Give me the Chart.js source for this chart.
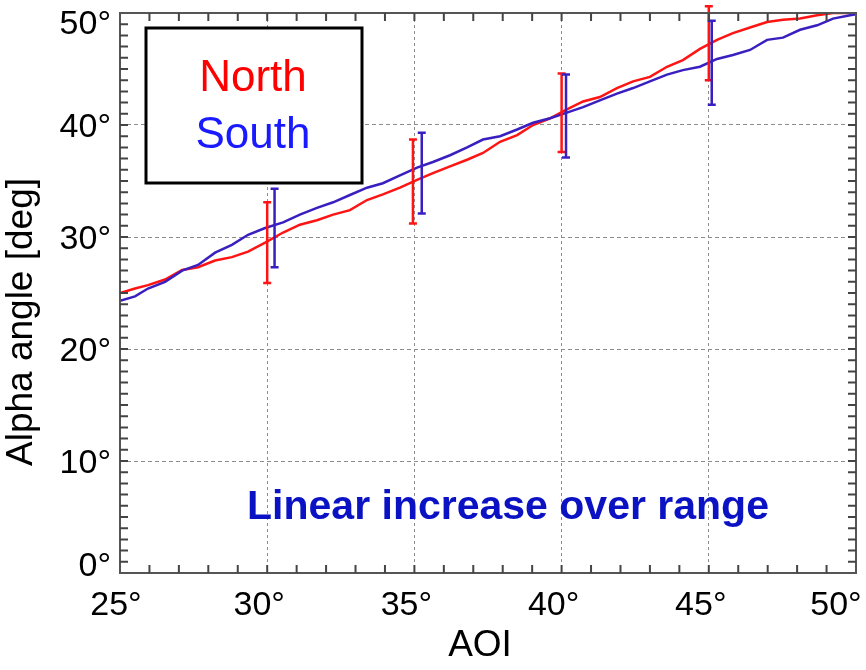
<!DOCTYPE html>
<html>
<head>
<meta charset="utf-8">
<script src="https://cdn.jsdelivr.net/npm/chart.js@4.4.1/dist/chart.umd.min.js"></script>
<style>
  html, body { margin: 0; padding: 0; background: #ffffff; }
  #wrap { width: 866px; height: 670px; position: relative; }
</style>
</head>
<body>
<div id="wrap"><canvas id="alphaChart"></canvas></div>
<script>
// AOI sampling positions (deg)
const aoi = [25.0, 25.51, 25.95, 26.53, 27.11, 27.65, 28.23, 28.8, 29.35, 29.93,
  30.54, 31.11, 31.69, 32.24, 32.81, 33.39, 33.93, 34.51, 35.09, 35.63,
  36.21, 36.79, 37.33, 37.91, 38.49, 39.03, 39.61, 40.18, 40.73, 41.3,
  41.88, 42.43, 43.0, 43.58, 44.12, 44.7, 45.28, 45.82, 46.4, 46.98,
  47.52, 48.1, 48.68, 49.22, 49.8, 50.0];

const northAlpha = [25.0, 25.4, 25.7, 26.2, 27.05, 27.3, 27.9, 28.2, 28.7, 29.5,
  30.4, 31.1, 31.5, 32.0, 32.4, 33.3, 33.8, 34.4, 35.1, 35.7,
  36.3, 36.9, 37.5, 38.5, 39.1, 40.0, 40.6, 41.4, 42.1, 42.5,
  43.3, 43.9, 44.3, 45.2, 45.8, 46.8, 47.6, 48.2, 48.7, 49.2,
  49.4, 49.5, 49.8, 50.0, 50.0, 50.0];

const southAlpha = [24.3, 24.7, 25.4, 26.0, 27.0, 27.5, 28.6, 29.3, 30.2, 30.8,
  31.3, 32.0, 32.6, 33.1, 33.75, 34.4, 34.8, 35.5, 36.2, 36.7,
  37.3, 38.0, 38.7, 39.0, 39.6, 40.2, 40.6, 41.1, 41.6, 42.2,
  42.8, 43.3, 43.9, 44.5, 44.9, 45.2, 45.9, 46.25, 46.7, 47.6,
  47.8, 48.5, 48.9, 49.5, 49.8, 49.9];

// error bars
const northErrAoi = [30.0, 34.95, 40.0, 45.0];
const northErrLow = [25.9, 31.2, 37.6, 44.0];
const northErrHigh = [33.1, 38.7, 44.6, 50.6];
const southErrAoi = [30.25, 35.25, 40.15, 45.1];
const southErrLow = [27.3, 32.1, 37.1, 41.8];
const southErrHigh = [34.3, 39.3, 44.5, 49.3];

const xTicks = [25, 30, 35, 40, 45, 50];
const yTicks = [0, 10, 20, 30, 40, 50];

const RED = '#ff1414';
const BLUE = '#3a1fc0';
const FONT = '"Liberation Sans", Arial, sans-serif';

function toPoints(xs, ys) {
  return xs.map((x, i) => ({ x: x, y: ys[i] }));
}

// frame, inward ticks, tick labels, titles
const framePlugin = {
  id: 'frame',
  afterDraw(chart) {
    const ctx = chart.ctx;
    const a = chart.chartArea;
    const xs = chart.scales.x, ys = chart.scales.y;
    ctx.save();
    ctx.strokeStyle = '#555555';
    ctx.lineWidth = 2;
    ctx.strokeRect(a.left, a.top, a.right - a.left, a.bottom - a.top);

    ctx.lineWidth = 2;
    ctx.strokeStyle = '#444444';
    ctx.beginPath();
    for (let v = 26; v < 50; v++) {
      const px = xs.getPixelForValue(v);
      ctx.moveTo(px, a.bottom); ctx.lineTo(px, a.bottom - 8);
      ctx.moveTo(px, a.top); ctx.lineTo(px, a.top + 8);
    }
    for (let v = 1; v < 50; v++) {
      const py = ys.getPixelForValue(v);
      ctx.moveTo(a.left, py); ctx.lineTo(a.left + 8, py);
      ctx.moveTo(a.right, py); ctx.lineTo(a.right - 8, py);
    }
    ctx.stroke();

    ctx.fillStyle = '#000000';
    ctx.font = '34px ' + FONT;
    ctx.textAlign = 'center';
    ctx.textBaseline = 'middle';
    xTicks.forEach(v => {
      const px = Math.min(Math.max(xs.getPixelForValue(v) - 8, 116), 836);
      ctx.fillText(v + '°', px, 606);
    });
    ctx.textAlign = 'right';
    yTicks.forEach(v => {
      const py = Math.min(Math.max(ys.getPixelForValue(v) + 3, 25), 567);
      ctx.fillText(v + '°', 111, py);
    });

    ctx.font = '37px ' + FONT;
    ctx.textAlign = 'center';
    ctx.fillText('AOI', 480, 646);
    ctx.save();
    ctx.translate(22, 322);
    ctx.rotate(-Math.PI / 2);
    ctx.fillText('Alpha angle [deg]', 0, 0);
    ctx.restore();

    // legend box
    ctx.fillStyle = '#ffffff';
    ctx.fillRect(146, 28, 216, 155);
    ctx.strokeStyle = '#000000';
    ctx.lineWidth = 3;
    ctx.strokeRect(146, 28, 216, 155);
    ctx.font = '44px ' + FONT;
    ctx.fillStyle = '#ff0000';
    ctx.fillText('North', 253, 79);
    ctx.fillStyle = '#1a1aff';
    ctx.fillText('South', 253, 136);

    ctx.font = 'bold 41px ' + FONT;
    ctx.fillStyle = '#0a12c4';
    ctx.fillText('Linear increase over range', 508, 508);
    ctx.restore();
  }
};

const errorBarPlugin = {
  id: 'errorBars',
  afterDatasetsDraw(chart) {
    const ctx = chart.ctx;
    const xs = chart.scales.x, ys = chart.scales.y;
    const drawSet = (xv, lo, hi, color) => {
      ctx.strokeStyle = color;
      ctx.lineWidth = 2.5;
      ctx.beginPath();
      xv.forEach((x, i) => {
        const px = xs.getPixelForValue(x);
        const p1 = ys.getPixelForValue(lo[i]);
        const p2 = ys.getPixelForValue(hi[i]);
        ctx.moveTo(px, p1); ctx.lineTo(px, p2);
        ctx.moveTo(px - 4, p1); ctx.lineTo(px + 4, p1);
        ctx.moveTo(px - 4, p2); ctx.lineTo(px + 4, p2);
      });
      ctx.stroke();
    };
    ctx.save();
    drawSet(northErrAoi, northErrLow, northErrHigh, RED);
    drawSet(southErrAoi, southErrLow, southErrHigh, BLUE);
    ctx.restore();
  }
};

new Chart(document.getElementById('alphaChart'), {
  type: 'line',
  data: {
    datasets: [
      {
        label: 'South',
        data: toPoints(aoi, southAlpha),
        borderColor: BLUE,
        borderWidth: 2.5,
        pointRadius: 0,
        tension: 0
      },
      {
        label: 'North',
        data: toPoints(aoi, northAlpha),
        borderColor: RED,
        borderWidth: 2.5,
        pointRadius: 0,
        tension: 0
      }
    ]
  },
  options: {
    responsive: true,
    maintainAspectRatio: false,
    animation: false,
    layout: { padding: { left: 120, right: 10, top: 13, bottom: 97 } },
    plugins: {
      legend: { display: false },
      tooltip: { enabled: false }
    },
    scales: {
      x: {
        type: 'linear',
        min: 25,
        max: 50,
        border: { display: false, dash: [3, 3] },
        grid: { color: '#8c8c8c', lineWidth: 1, drawTicks: false },
        ticks: { display: false, stepSize: 5 }
      },
      y: {
        type: 'linear',
        min: 0,
        max: 50,
        border: { display: false, dash: [4, 3] },
        grid: { color: '#8c8c8c', lineWidth: 1, drawTicks: false },
        ticks: { display: false, stepSize: 10 }
      }
    }
  },
  plugins: [framePlugin, errorBarPlugin]
});
</script>
</body>
</html>
